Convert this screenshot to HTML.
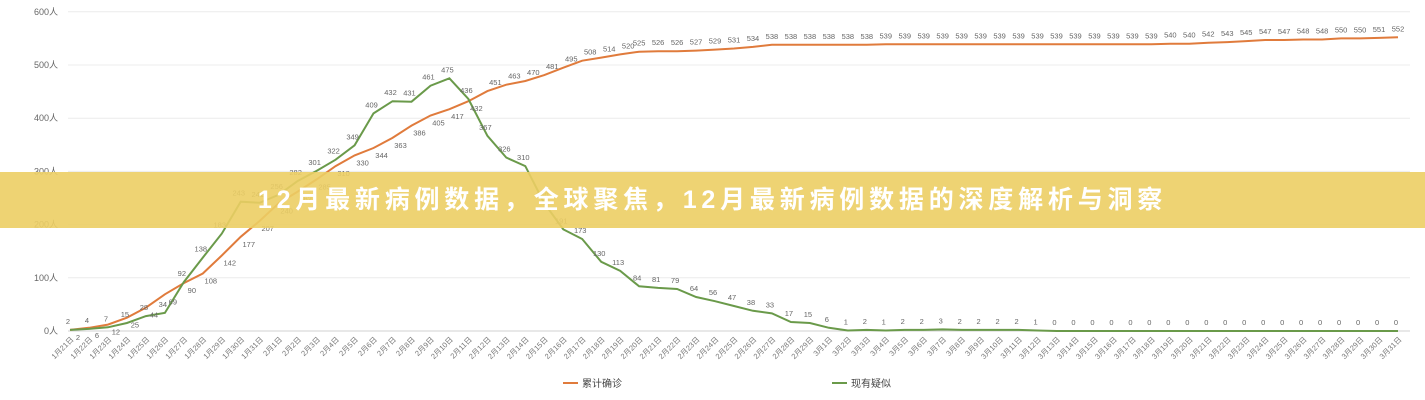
<!DOCTYPE html>
<html><head><meta charset="utf-8"><style>
html,body{margin:0;padding:0;background:#fff;width:1425px;height:400px;overflow:hidden;font-family:"Liberation Sans","Noto Sans CJK SC",sans-serif;}
#banner{position:absolute;left:0;top:172px;width:1425px;height:56px;background:rgba(236,206,100,0.9);color:#fff;font-weight:bold;font-size:25px;line-height:56px;text-align:center;letter-spacing:4.8px;}
</style></head><body>
<svg id="c" width="1425" height="400" style="position:absolute;left:0;top:0" font-family="Liberation Sans, Noto Sans CJK SC, sans-serif"></svg>
<div id="banner">12月最新病例数据，全球聚焦，12月最新病例数据的深度解析与洞察</div>
<script>
var o=[2,6,12,25,44,69,90,108,142,177,207,240,262,285,310,330,344,363,386,405,417,432,451,463,470,481,495,508,514,520,525,526,526,527,529,531,534,538,538,538,538,538,538];
for(var i=0;i<15;i++)o.push(539);
o=o.concat([540,540,542,543,545,547,547,548,548,550,550,551,552]);
var g=[2,4,7,15,28,34,92,138,183,243,241,256,282,301,322,349,409,432,431,461,475,436,367,326,310,240,191,173,130,113,84,81,79,64,56,47,38,33,17,15,6,1,2,1,2,2,3,2,2,2,2,1];
while(g.length<71)g.push(0);
var X=function(i){return 70+i*1328/70},Y=function(v){return 331-v*0.532};
var s='';
[0,100,200,300,400,500,600].forEach(function(v){var y=Y(v);s+='<line x1="68" x2="1410" y1="'+y+'" y2="'+y+'" stroke="'+(v?'#ececec':'#d0d0d0')+'" stroke-width="1"/>';s+='<text x="58" y="'+(y+3)+'" font-size="9" fill="#666" text-anchor="end">'+v+'人</text>';});
function pl(a,c){var p=a.map(function(v,i){return X(i).toFixed(1)+','+Y(v).toFixed(1)}).join(' ');return '<polyline points="'+p+'" fill="none" stroke="'+c+'" stroke-width="2"/>';}
s+=pl(o,'#e07b3c')+pl(g,'#6a9a4a');
o.forEach(function(v,i){s+='<text x="'+(X(i)+(i<30?8:0))+'" y="'+(Y(v)+(i<22?10:-6))+'" font-size="7.5" fill="#666" text-anchor="middle">'+v+'</text>';});
g.forEach(function(v,i){s+='<text x="'+(X(i)-2)+'" y="'+(Y(v)-6)+'" font-size="7.5" fill="#666" text-anchor="middle">'+v+'</text>';});
for(var i=0;i<71;i++){var m,d;if(i<11){m=1;d=21+i}else if(i<40){m=2;d=i-10}else{m=3;d=i-39}
var x=X(i);s+='<text transform="translate('+(x+4)+',340) rotate(-45)" font-size="7.5" fill="#777" text-anchor="end">'+m+'月'+d+'日</text>';}
s+='<line x1="563" x2="578" y1="383" y2="383" stroke="#e07b3c" stroke-width="2"/><text x="582" y="387" font-size="10" fill="#444">累计确诊</text>';
s+='<line x1="832" x2="847" y1="383" y2="383" stroke="#6a9a4a" stroke-width="2"/><text x="851" y="387" font-size="10" fill="#444">现有疑似</text>';
document.getElementById('c').innerHTML=s;
</script>
</body></html>
